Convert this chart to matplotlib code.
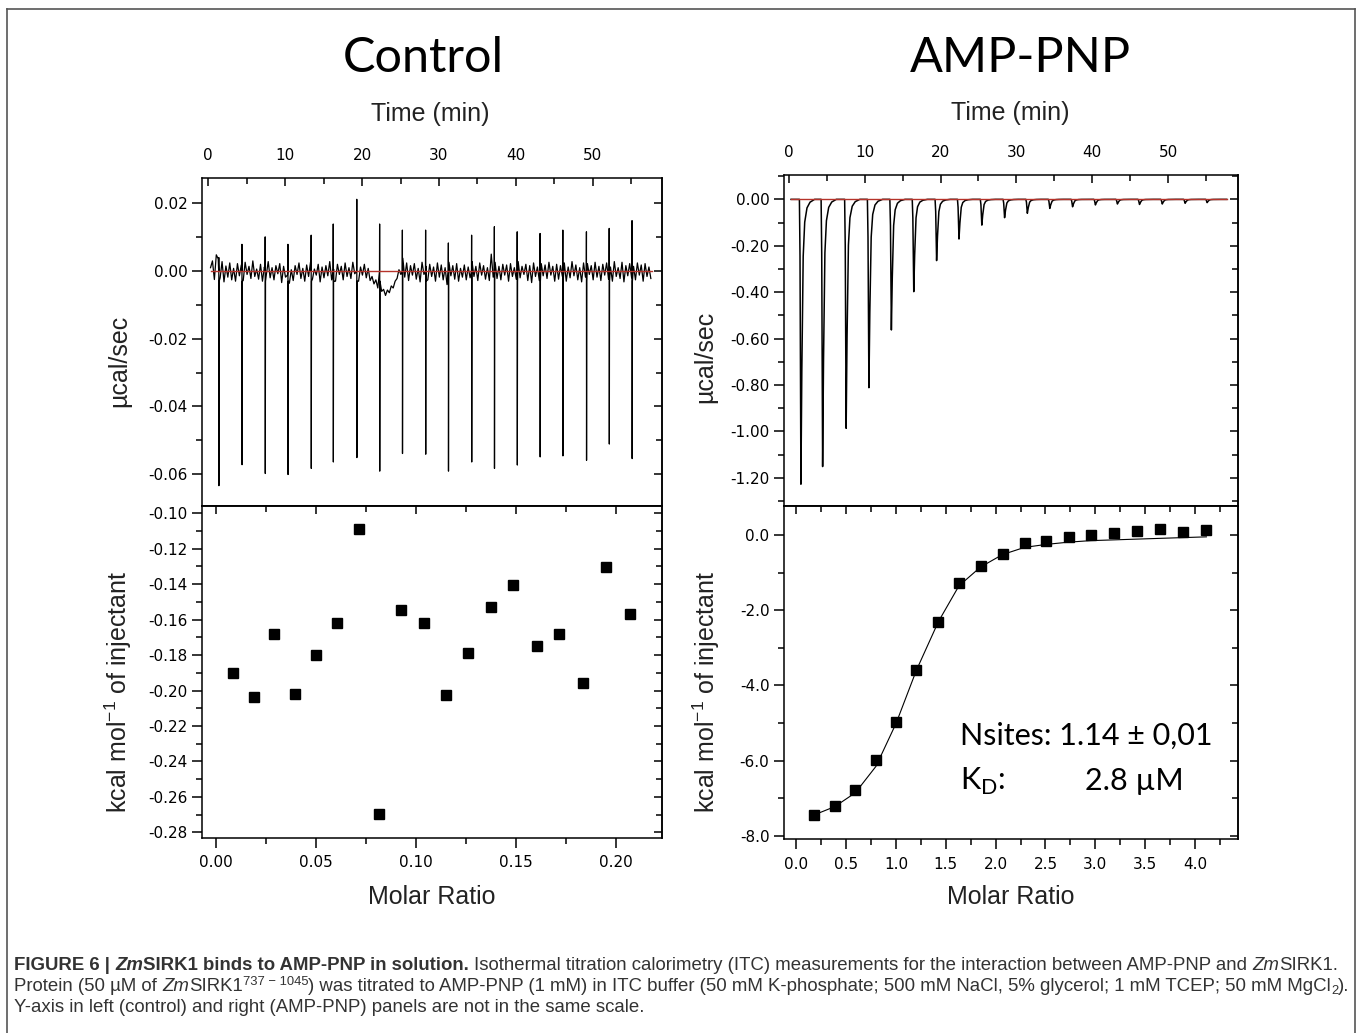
import numpy as np
import matplotlib
matplotlib.use('Agg')
import matplotlib.pyplot as plt
from matplotlib.ticker import MultipleLocator, FormatStrFormatter
from matplotlib.lines import Line2D
from matplotlib import font_manager

plt.rcParams['axes.unicode_minus'] = False
plt.rcParams['font.family'] = 'DejaVu Sans'

W, H = 1357, 1033

# ---- Control: raw ITC trace ----
ctrl_inj_time = [1.39, 4.40, 7.42, 10.38, 13.40, 16.27, 19.33, 22.30, 25.26, 28.28,
                 31.24, 34.26, 37.22, 40.19, 43.16, 46.12, 49.19, 52.15, 55.12]
ctrl_spike_max = [0.0040, 0.0079, 0.0101, 0.0079, 0.0106, 0.0139, 0.0212, 0.0139, 0.0121, 0.0121,
                  0.0083, 0.0106, 0.0131, 0.0116, 0.0111, 0.0121, 0.0116, 0.0126, 0.0149]
ctrl_spike_min = [-0.0634, -0.0572, -0.0598, -0.0601, -0.0583, -0.0564, -0.0551, -0.0591, -0.0539, -0.0541,
                  -0.0591, -0.0564, -0.0583, -0.0573, -0.0549, -0.0546, -0.0559, -0.0511, -0.0554]
# baseline noise, 1e-3 ucal/s, one sample every 0.25 min from 0.3 min
ctrl_noise = [
    1.0, 3.0, -2.5, 4.8, 3.6, -2.0, 2.8, -3.2, 1.5, -1.8, 2.4, -2.6, 0.8, -3.0, 2.2, -1.4, 1.8, -2.8, 2.6, -1.0,
    1.4, -2.2, 3.0, -1.6, 0.6, -2.4, 2.0, -3.0, 1.2, -1.2, 2.8, -2.0, 1.0, -2.6, 1.6, -0.8, 2.2, -3.4, 1.4, -1.8,
    -1.2, -3.6, 0.4, -2.8, 1.6, -1.0, 2.4, -2.2, 0.8, -3.0, 1.8, -1.6, 2.6, -2.4, 0.6, -1.2, 2.0, -3.2, 1.2, -2.0,
    1.6, -1.4, 2.8, -2.6, 0.6, -3.0, 2.0, -1.0, 1.4, -2.6, 2.4, -1.6, 1.0, -2.2, 2.6, -0.8, 1.8, -3.0, 1.2, -1.2,
    2.0, -2.0, 0.8, -2.8, -1.6, -3.8, -2.6, -5.0, -4.2, -6.0, -5.4, -7.2, -5.6, -6.4, -4.4, -5.0, -3.0, -2.2, 0.4, -1.0,
    3.8, -1.8, 2.4, -2.8, 1.6, -1.2, 2.2, -2.4, 0.8, -3.2, 2.6, -1.0, 1.4, -2.6, 2.0, -1.6, 1.2, -3.0, 2.4, -1.8,
    1.8, -2.6, 1.0, -4.0, 2.6, -1.4, 1.6, -2.4, 2.2, -3.0, 0.8, -1.8, 1.8, -2.6, 1.2, -2.0, 2.8, -1.6, 1.4, -2.8,
    2.4, -1.2, 1.6, -2.4, 1.0, -2.8, 5.0, -1.8, 2.6, -2.2, 1.4, -2.6, 2.0, -1.2, 1.8, -3.0, 2.2, -1.6, 1.0, -2.4,
    2.8, -2.0, 1.4, -1.0, 2.0, -2.8, 1.6, -3.4, 2.4, -1.6, 1.2, -2.8, 2.2, -1.4, 1.8, -2.2, 2.6, -1.2, 1.4, -3.0,
    2.0, -2.4, 1.6, -1.6, 2.4, -3.0, 1.2, -2.0, 2.8, -1.4, 1.8, -2.6, 1.0, -3.2, 2.4, -1.8, 2.2, -1.0, 1.6, -2.6,
    2.6, -1.8, 1.4, -2.8, 2.0, -1.2, 2.4, -2.4, 1.2, -3.0, 2.8, -1.6, 1.0, -2.2, 2.6, -3.2, 1.6, -1.4, 2.2, -2.0,
    1.4, -2.6, 2.4, -1.2, 1.8, -3.0, 2.2, -1.6, 1.2, -2.2]
noise_t0, noise_dt = 0.3, 0.25
baseline_t = [0.3, 57.7]

# ---- Control: integrated heats ----
ctrl_ratio = [0.0086, 0.0191, 0.0294, 0.0397, 0.0500, 0.0605, 0.0715, 0.0818, 0.0928, 0.1040,
              0.1153, 0.1263, 0.1375, 0.1485, 0.1605, 0.1715, 0.1836, 0.1950, 0.2072]
ctrl_heat = [-0.190, -0.2034, -0.1682, -0.2021, -0.180, -0.162, -0.109, -0.2694, -0.1547, -0.162,
             -0.2024, -0.1788, -0.153, -0.1402, -0.1746, -0.1682, -0.196, -0.1303, -0.1571]

# ---- AMP-PNP: raw ITC trace ----
amp_inj_time = [1.60, 4.46, 7.56, 10.56, 13.52, 16.47, 19.48, 22.43, 25.44, 28.44,
                31.44, 34.40, 37.40, 40.41, 43.31, 46.22, 49.22, 52.23, 55.13]
amp_peak = [-1.228, -1.152, -0.987, -0.812, -0.563, -0.398, -0.264, -0.171, -0.111, -0.079,
            -0.060, -0.039, -0.032, -0.024, -0.020, -0.022, -0.020, -0.017, -0.014]
peak_dt = [-0.4, -0.2, -0.12, 0.0, 0.12, 0.3, 0.5, 0.8, 1.2, 1.8]
peak_frac = [0.0, 0.0, 0.2, 1.0, 0.6, 0.2, 0.08, 0.03, 0.01, 0.0]

# ---- AMP-PNP: integrated heats and fit ----
amp_ratio = [0.18, 0.387, 0.594, 0.80, 1.003, 1.205, 1.427, 1.633, 1.85, 2.07,
             2.29, 2.51, 2.735, 2.957, 3.19, 3.418, 3.646, 3.878, 4.114]
amp_heat = [-7.44, -7.20, -6.78, -5.97, -4.96, -3.59, -2.31, -1.28, -0.815, -0.505,
            -0.22, -0.15, -0.044, 0.009, 0.062, 0.106, 0.16, 0.089, 0.133]
amp_fit = [-7.44, -7.22, -6.85, -6.15, -5.0, -3.6, -2.3, -1.35, -0.85, -0.52,
           -0.33, -0.25, -0.19, -0.15, -0.13, -0.11, -0.09, -0.07, -0.05]

fig = plt.figure(figsize=(W / 100, H / 100), dpi=100)


def px(x, y):
    return x / W, 1 - y / H


def axes_box(x0, y0, x1, y1):
    return fig.add_axes([x0 / W, 1 - y1 / H, (x1 - x0) / W, (y1 - y0) / H])


def style(ax, xmaj, xfmt, ymaj, yfmt, trace):
    for s in ax.spines.values():
        s.set_linewidth(1.1)
    ax.xaxis.set_major_locator(MultipleLocator(xmaj))
    ax.xaxis.set_minor_locator(MultipleLocator(xmaj / 2))
    ax.xaxis.set_major_formatter(FormatStrFormatter(xfmt))
    ax.yaxis.set_major_locator(MultipleLocator(ymaj))
    ax.yaxis.set_minor_locator(MultipleLocator(ymaj / 2))
    ax.yaxis.set_major_formatter(FormatStrFormatter(yfmt))
    ax.tick_params(axis='y', which='both', direction='out', left=True, right=False,
                   labelsize=11, pad=3, width=1.1)
    ax.tick_params(axis='y', which='major', length=7.5)
    ax.tick_params(axis='y', which='minor', length=4.5)
    sy = ax.secondary_yaxis('right')
    sy.yaxis.set_major_locator(MultipleLocator(ymaj))
    sy.yaxis.set_minor_locator(MultipleLocator(ymaj / 2))
    sy.tick_params(axis='y', which='both', direction='in', labelright=False, width=1.1)
    sy.tick_params(axis='y', which='major', length=5.5)
    sy.tick_params(axis='y', which='minor', length=4.5)
    sy.spines['right'].set_linewidth(1.1)
    if trace:
        ax.xaxis.tick_top()
        ax.tick_params(axis='x', which='both', direction='in', top=True, bottom=False,
                       labeltop=True, labelbottom=False, labelsize=11, pad=11, width=1.1)
        ax.tick_params(axis='x', which='major', length=5.5)
        ax.tick_params(axis='x', which='minor', length=4.5)
    else:
        ax.tick_params(axis='x', which='both', direction='out', top=False, bottom=True,
                       labelsize=11, pad=5, width=1.1)
        ax.tick_params(axis='x', which='major', length=7.5)
        ax.tick_params(axis='x', which='minor', length=4)
        sx = ax.secondary_xaxis('top')
        sx.xaxis.set_major_locator(MultipleLocator(xmaj))
        sx.xaxis.set_minor_locator(MultipleLocator(xmaj / 2))
        sx.tick_params(axis='x', which='both', direction='in', labeltop=False, width=1.1)
        sx.tick_params(axis='x', which='major', length=5.5)
        sx.tick_params(axis='x', which='minor', length=4.5)
        sx.spines['top'].set_linewidth(1.1)


# ---- build traces ----
noise_time = noise_t0 + noise_dt * np.arange(len(ctrl_noise))
ct = list(noise_time)
cy = list(np.array(ctrl_noise) * 1e-3)
for t, mx, mn in zip(ctrl_inj_time, ctrl_spike_max, ctrl_spike_min):
    ct += [t - 0.03, t - 0.015, t, t + 0.03]
    cy += [0.0, mx, mn, -0.003]
order = np.argsort(ct)
ct = np.array(ct)[order]
cy = np.array(cy)[order]

at = [baseline_t[0], baseline_t[1]]
ay = [0.0, 0.0]
for t, pk in zip(amp_inj_time, amp_peak):
    at += [t + d for d in peak_dt]
    ay += [pk * f for f in peak_frac]
order = np.argsort(at)
at = np.array(at)[order]
ay = np.array(ay)[order]

red = '#b5332a'

# ---- Control panels ----
ax1 = axes_box(202.3, 178.3, 662, 506)
ax1.plot(ct, cy, color='black', lw=0.9)
ax1.plot(baseline_t, [0, 0], color=red, lw=1.0)
ax1.set_xlim(-0.77, 59.0)
ax1.set_ylim(-0.0694, 0.0274)
style(ax1, 10, '%d', 0.02, '%.2f', True)

ax2 = axes_box(202.3, 506, 662, 837.7)
ax2.plot(ctrl_ratio, ctrl_heat, 's', color='black', ms=7.5)
ax2.set_xlim(-0.0066, 0.2232)
ax2.set_ylim(-0.283, -0.0959)
style(ax2, 0.05, '%.2f', 0.02, '%.2f', False)

# ---- AMP-PNP panels ----
ax3 = axes_box(784, 175, 1238, 506)
ax3.plot(at, ay, color='black', lw=1.1)
ax3.plot(baseline_t, [0, 0], color=red, lw=1.0)
ax3.set_xlim(-0.63, 59.2)
ax3.set_ylim(-1.322, 0.105)
style(ax3, 10, '%d', 0.2, '%.2f', True)

ax4 = axes_box(784, 506, 1238, 839.3)
ax4.plot(amp_ratio, amp_fit, color='black', lw=0.8)
ax4.plot(amp_ratio, amp_heat, 's', color='black', ms=7.5)
ax4.set_xlim(-0.122, 4.431)
ax4.set_ylim(-8.088, 0.77)
style(ax4, 0.5, '%.1f', 2.0, '%.1f', False)

fig.text(*px(960, 745), 'Nsites: 1.14 \u00b1 0,01', family='Lato', fontsize=22,
         ha='left', va='baseline')
fig.text(*px(960, 790), r'K$_\mathregular{D}$:', family='Lato', fontsize=22,
         ha='left', va='baseline')
fig.text(*px(1085, 790), '2.8 \u00b5M', family='Lato', fontsize=22,
         ha='left', va='baseline')

# ---- titles and axis labels ----
fig.text(*px(423, 71.7), 'Control', family='Lato', fontsize=35, ha='center', va='baseline')
fig.text(*px(1020, 71.7), 'AMP-PNP', family='Lato', fontsize=35, ha='center', va='baseline')

lab = dict(family='Liberation Sans', fontsize=18, color='#222222')
fig.text(*px(430, 114), 'Time (min)', ha='center', va='center', **lab)
fig.text(*px(1010, 113.3), 'Time (min)', ha='center', va='center', **lab)
fig.text(*px(432, 896.7), 'Molar Ratio', ha='center', va='center', **lab)
fig.text(*px(1011, 896.7), 'Molar Ratio', ha='center', va='center', **lab)
ylab = r'kcal mol$^{\mathregular{-1}}$ of injectant'
fig.text(*px(119, 360.7), '\u00b5cal/sec', rotation=90, ha='center', va='center', **lab)
fig.text(*px(118, 691.7), ylab, rotation=90, ha='center', va='center', **lab)
fig.text(*px(705, 356.7), '\u00b5cal/sec', rotation=90, ha='center', va='center', **lab)
fig.text(*px(706, 691.7), ylab, rotation=90, ha='center', va='center', **lab)

# ---- frame ----
frame = dict(color='#555555', lw=1.2, transform=fig.transFigure)
fig.add_artist(Line2D([7 / W, 7 / W], [0, 1 - 9 / H], **frame))
fig.add_artist(Line2D([7 / W, 1355 / W], [1 - 9 / H, 1 - 9 / H], **frame))
fig.add_artist(Line2D([1355 / W, 1355 / W], [0, 1 - 9 / H], **frame))

# ---- caption ----
names = {f.name for f in font_manager.fontManager.ttflist}
cap_font = 'Liberation Sans' if 'Liberation Sans' in names else 'DejaVu Sans'
renderer = fig.canvas.get_renderer()


def advance(text, size, weight, style_):
    kw = dict(fontsize=size, fontweight=weight, fontstyle=style_, family=cap_font)
    t1 = fig.text(0, 0, '|' + text + '|', **kw)
    t2 = fig.text(0, 0, '||', **kw)
    w = t1.get_window_extent(renderer).width - t2.get_window_extent(renderer).width
    t1.remove()
    t2.remove()
    return w


# (text, weight, style, size factor, vertical shift in px)
cap1 = [('FIGURE 6 | ', 'bold', 'normal', 1, 0), ('Zm', 'bold', 'italic', 1, 0),
        ('SIRK1 binds to AMP-PNP in solution. ', 'bold', 'normal', 1, 0),
        ('Isothermal titration calorimetry (ITC) measurements for the interaction between AMP-PNP and ',
         'normal', 'normal', 1, 0),
        ('Zm', 'normal', 'italic', 1, 0), ('SIRK1.', 'normal', 'normal', 1, 0)]
cap2 = [('Protein (50 \u00b5M of ', 'normal', 'normal', 1, 0), ('Zm', 'normal', 'italic', 1, 0),
        ('SIRK1', 'normal', 'normal', 1, 0), ('737 \u2212 1045', 'normal', 'normal', 0.7, -6),
        (') was titrated to AMP-PNP (1 mM) in ITC buffer (50 mM K-phosphate; 500 mM NaCl, '
         '5% glycerol; 1 mM TCEP; 50 mM MgCl', 'normal', 'normal', 1, 0),
        ('2', 'normal', 'normal', 0.7, 3), (').', 'normal', 'normal', 1, 0)]
cap3 = [('Y-axis in left (control) and right (AMP-PNP) panels are not in the same scale.',
         'normal', 'normal', 1, 0)]

base = 10
total = sum(advance(t, base * f, w, s) for t, w, s, f, d in cap1)
cap_size = base * (1331 / total)


def draw_runs(runs, x, y):
    for t, w, s, f, d in runs:
        fig.text(*px(x, y + d), t, fontsize=cap_size * f, fontweight=w, fontstyle=s,
                 family=cap_font, ha='left', va='baseline', color='#333333')
        x += advance(t, cap_size * f, w, s)


draw_runs(cap1, 14, 970)
draw_runs(cap2, 14, 991)
draw_runs(cap3, 14, 1012)

fig.savefig('out.png', dpi=100)
